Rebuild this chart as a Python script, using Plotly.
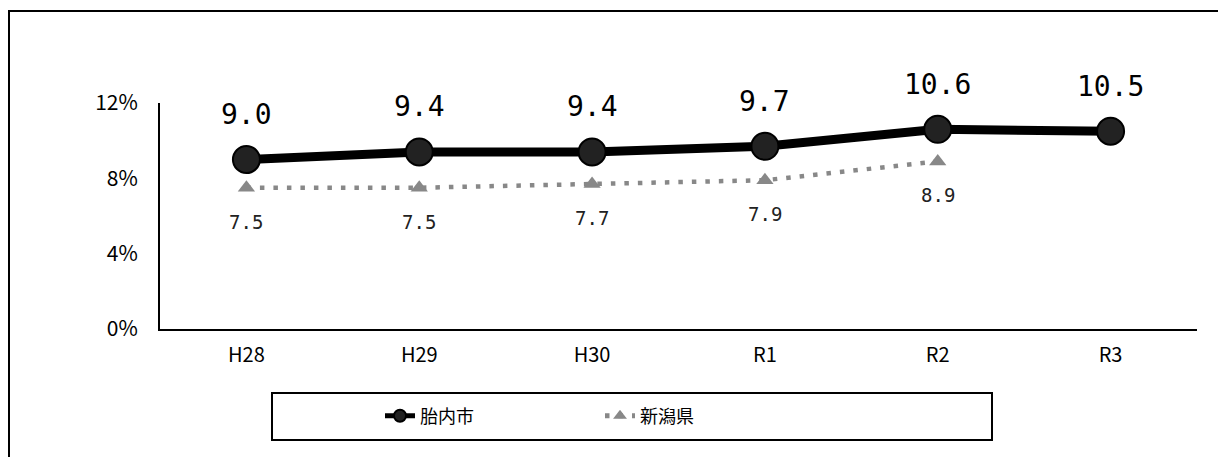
import plotly.graph_objects as go

categories = ["H28", "H29", "H30", "R1", "R2", "R3"]
tainai = [9.0, 9.4, 9.4, 9.7, 10.6, 10.5]
niigata = [7.5, 7.5, 7.7, 7.9, 8.9]
names = ["胎内市", "新潟県"]
yticks = [0, 4, 8, 12]
yticklabels = ["0%", "4%", "8%", "12%"]

JP = "Noto Sans CJK JP, sans-serif"
NUM = "DejaVu Sans Mono, monospace"

fig = go.Figure()
fig.add_trace(go.Scatter(
    x=categories, y=tainai, name=names[0], mode="lines+markers",
    line=dict(color="#000000", width=9),
    marker=dict(symbol="circle", size=27, color="#222222", line=dict(color="#000000", width=2)),
))
fig.add_trace(go.Scatter(
    x=categories[:len(niigata)], y=niigata, name=names[1], mode="lines+markers",
    line=dict(color="#888888", width=4.5, dash="4.5px,9px"),
    marker=dict(symbol="triangle-up", size=15, color="#888888"),
))

for c, v in zip(categories, tainai):
    fig.add_annotation(x=c, y=v, text=f"{v:.1f}", showarrow=False, yshift=45,
                       font=dict(family=NUM, size=28, color="#000000"))
for c, v in zip(categories, niigata):
    fig.add_annotation(x=c, y=v, text=f"{v:.1f}", showarrow=False, yshift=-34,
                       font=dict(family=NUM, size=19, color="#222222"))

# outer frame
fig.add_shape(type="rect", xref="paper", yref="paper",
              x0=(9 - 160) / 1037, x1=1.2, y0=-1.0, y1=(329 - 11) / 226,
              line=dict(color="#000000", width=2))
# legend frame
fig.add_shape(type="rect", xref="paper", yref="paper",
              x0=(272 - 160) / 1037, x1=(992 - 160) / 1037,
              y0=(329 - 440) / 226, y1=(329 - 393) / 226,
              line=dict(color="#000000", width=2), fillcolor="rgba(0,0,0,0)")

fig.update_layout(
    width=1218, height=457,
    margin=dict(l=160, r=21, t=103, b=128),
    paper_bgcolor="white", plot_bgcolor="white",
    showlegend=True,
    legend=dict(orientation="h", x=(380 - 160) / 1037, xanchor="left",
                y=(329 - 416) / 226, yanchor="middle",
                font=dict(family=JP, size=18, color="#000000"),
                itemsizing="constant", entrywidth=175, entrywidthmode="pixels",
                bgcolor="rgba(0,0,0,0)"),
    xaxis=dict(type="category", range=[-0.5, 5.5], showgrid=False,
               showline=True, linecolor="#000000", linewidth=2,
               ticks="", tickfont=dict(family=JP, size=20, color="#000000"),
               ticklabelstandoff=7),
    yaxis=dict(range=[0, 12], tickvals=yticks, ticktext=yticklabels, showgrid=False,
               showline=True, linecolor="#000000", linewidth=2, zeroline=False,
               ticks="", tickfont=dict(family=JP, size=21, color="#000000"),
               ticklabelstandoff=16),
)

fig.write_html("out.html")
